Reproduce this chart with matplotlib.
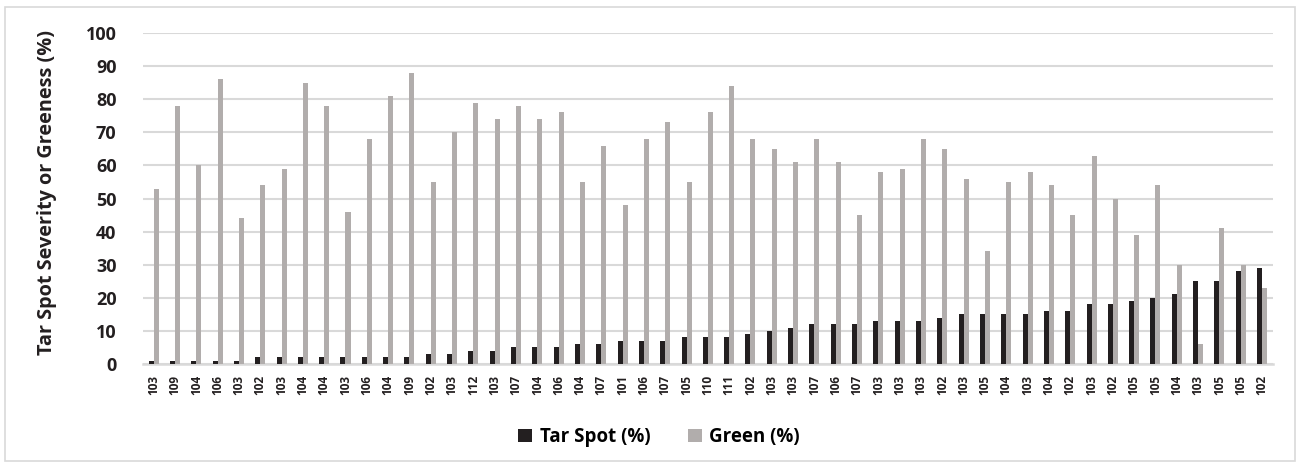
import matplotlib.pyplot as plt
import numpy as np
from matplotlib.patches import Rectangle

# hybrid labels along the x axis
hybrids = ["103", "109", "104", "106", "103", "102", "103", "104", "104", "103",
           "106", "104", "109", "102", "103", "112", "103", "107", "104", "106",
           "104", "107", "101", "106", "107", "105", "110", "111", "102", "103",
           "103", "107", "106", "107", "103", "103", "103", "102", "103", "105",
           "104", "103", "104", "102", "103", "102", "105", "105", "104", "103",
           "105", "105", "102"]

tar_spot = [1, 1, 1, 1, 1, 2, 2, 2, 2, 2, 2, 2, 2, 3, 3, 4, 4, 5, 5, 5,
            6, 6, 7, 7, 7, 8, 8, 8, 9, 10, 11, 12, 12, 12, 13, 13, 13, 14, 15, 15,
            15, 15, 16, 16, 18, 18, 19, 20, 21, 25, 25, 28, 29]

green = [53, 78, 60, 86, 44, 54, 59, 85, 78, 46, 68, 81, 88, 55, 70, 79, 74, 78, 74, 76,
         55, 66, 48, 68, 73, 55, 76, 84, 68, 65, 61, 68, 61, 45, 58, 59, 68, 65, 56, 34,
         55, 58, 54, 45, 63, 50, 39, 54, 30, 6, 41, 30, 23]

DARK = "#231f20"
GREY = "#b1adac"
FONT = "Open Sans"

fig = plt.figure(figsize=(13, 4.66), dpi=100)
ax = fig.add_axes([0.110, 0.219, 0.869, 0.710])

x = np.arange(len(hybrids))
w = 0.235
ax.bar(x - w / 2, tar_spot, width=w, color=DARK, label="Tar Spot (%)", zorder=3)
ax.bar(x + w / 2, green, width=w, color=GREY, label="Green (%)", zorder=3)

ax.set_xlim(-0.5, len(hybrids) - 0.5)
ax.set_ylim(0, 100)
ax.set_yticks(range(0, 101, 10))
ax.yaxis.grid(True, color="#d9d9d9", linewidth=1.5, zorder=0)
ax.set_axisbelow(True)

for s in ["top", "right", "left"]:
    ax.spines[s].set_visible(False)
ax.spines["bottom"].set_color("#d9d9d9")
ax.spines["bottom"].set_linewidth(1.8)

ax.set_xticks(x)
ax.set_xticklabels(hybrids, rotation=90, fontsize=8.5, fontweight="bold",
                   family=FONT, color="#231f20")
ax.tick_params(axis="x", length=0, pad=8)
ax.tick_params(axis="y", length=0, pad=19)
for lbl in ax.get_yticklabels():
    lbl.set_fontsize(13)
    lbl.set_fontweight("bold")
    lbl.set_family(FONT)
    lbl.set_color("#231f20")

ax.set_ylabel("Tar Spot Severity or Greeness (%)", fontsize=14.3, fontweight="bold",
              family=FONT, color="#231f20")
ax.yaxis.set_label_coords(-0.076, 0.517)

fig.legend(loc="center", bbox_to_anchor=(0.507, 0.062), ncol=2, frameon=False,
           handlelength=0.75, handleheight=0.75, handletextpad=0.4, columnspacing=2.0,
           prop={"family": FONT, "weight": "bold", "size": 13.5})

# light frame round the chart
fig.patches.append(Rectangle((5 / 1300, 5 / 466), 1290 / 1300, 454 / 466,
                             transform=fig.transFigure, fill=False,
                             edgecolor="#d9d9d9", linewidth=1.2))

plt.savefig("out.png", dpi=100)
